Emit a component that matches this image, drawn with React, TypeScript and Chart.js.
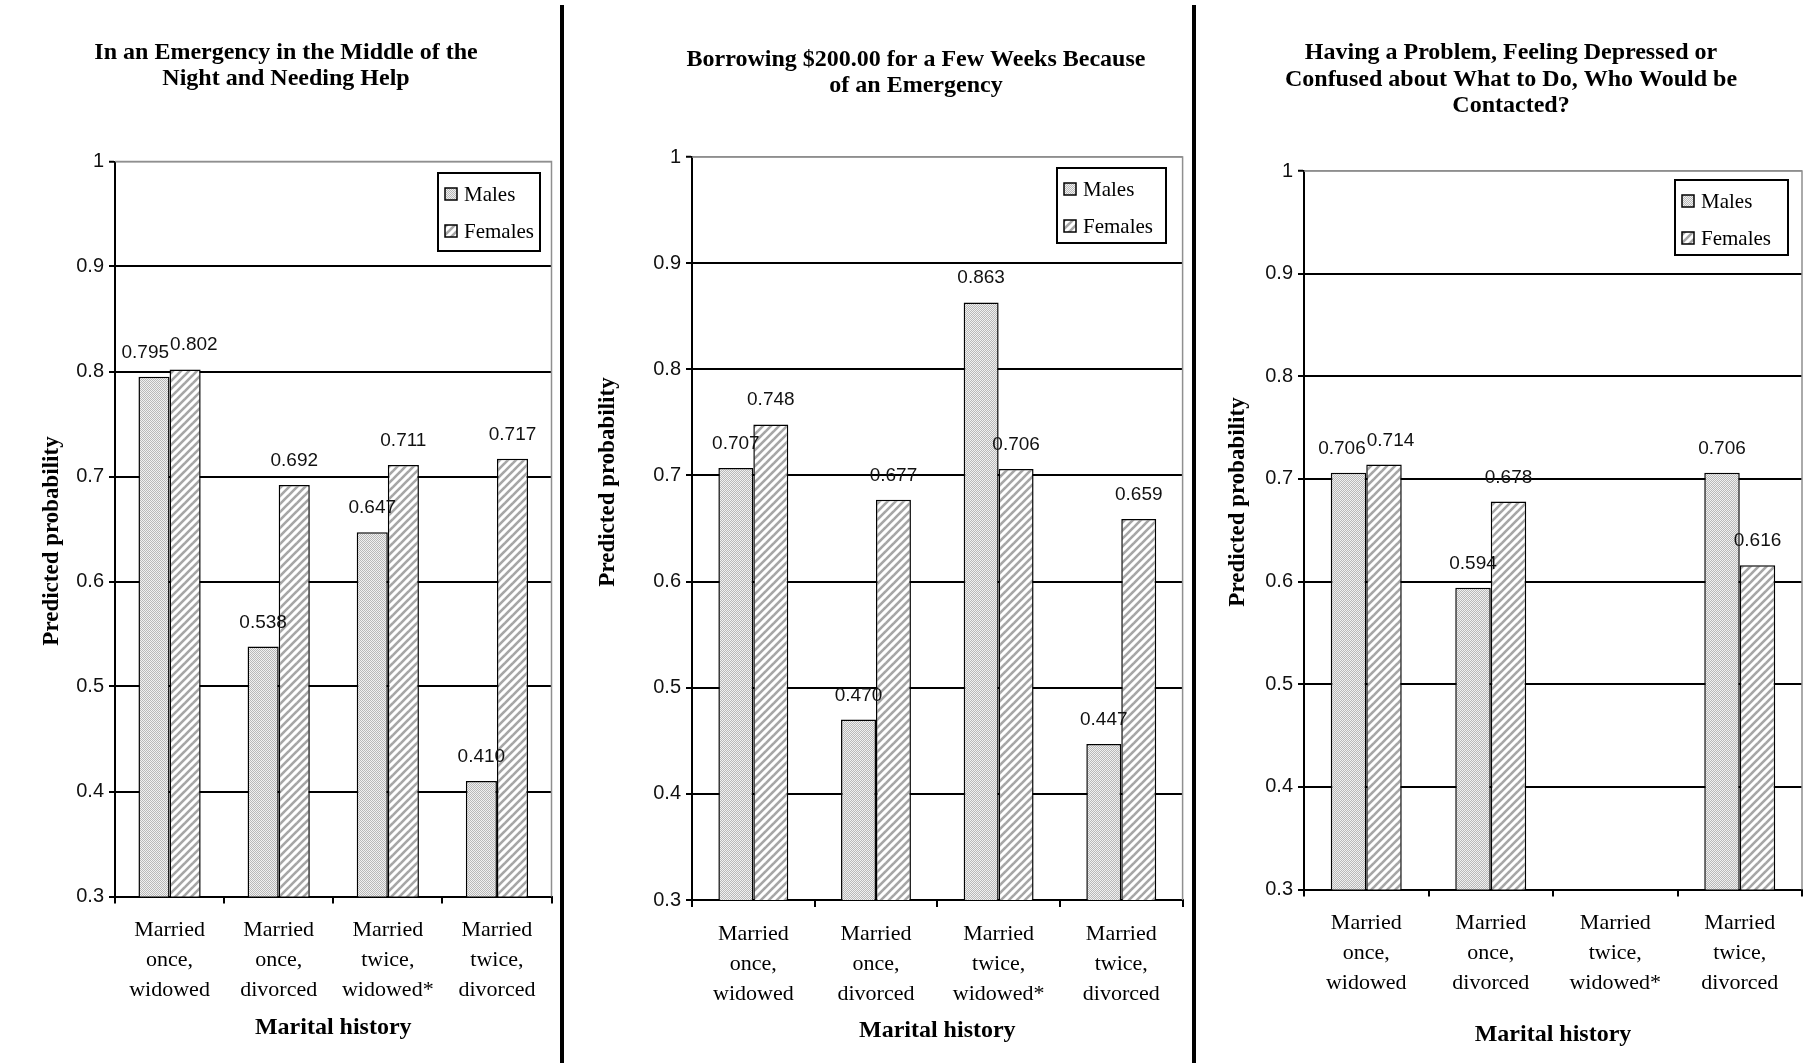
import { useEffect, useRef } from "react";
import { Chart, registerables } from "chart.js";

Chart.register(...registerables);

// ---- data ----
const categories = [
  ["Married", "once,", "widowed"],
  ["Married", "once,", "divorced"],
  ["Married", "twice,", "widowed*"],
  ["Married", "twice,", "divorced"],
];
const seriesNames = ["Males", "Females"];
const yTickValues = [0.3, 0.4, 0.5, 0.6, 0.7, 0.8, 0.9, 1];
const yTickLabels = ["0.3", "0.4", "0.5", "0.6", "0.7", "0.8", "0.9", "1"];
const yAxisTitle = "Predicted probability";
const xAxisTitle = "Marital history";

const emergencyTitle = ["In an Emergency in the Middle of the", "Night and Needing Help"];
const emergencyMales = [0.795, 0.538, 0.647, 0.41];
const emergencyFemales = [0.802, 0.692, 0.711, 0.717];

const borrowingTitle = ["Borrowing $200.00 for a Few Weeks Because", "of an Emergency"];
const borrowingMales = [0.707, 0.47, 0.863, 0.447];
const borrowingFemales = [0.748, 0.677, 0.706, 0.659];

const problemTitle = [
  "Having a Problem, Feeling Depressed or",
  "Confused about What to Do, Who Would be",
  "Contacted?",
];
const problemMales = [0.706, 0.594, null, 0.706];
const problemFemales = [0.714, 0.678, null, 0.616];

// ---- layout (pixels, local to each panel canvas) ----
type Box = { x: number; y: number; w: number; h: number };
type PanelLayout = {
  left: number;
  width: number;
  height: number;
  plotLeft: number;
  plotRight: number;
  plotTop: number;
  plotBottom: number;
  titleX: number;
  titleY: number[];
  yTitleX: number;
  yTitleY: number;
  xTitleY: number;
  legend: Box;
};

const PAGE_W = 1809;
const PAGE_H = 1063;

const layouts: PanelLayout[] = [
  {
    left: 0, width: 560, height: PAGE_H,
    plotLeft: 115, plotRight: 551.5, plotTop: 161.5, plotBottom: 896.5,
    titleX: 286, titleY: [53, 78.5],
    yTitleX: 52, yTitleY: 541, xTitleY: 1028,
    legend: { x: 438, y: 173, w: 102, h: 78 },
  },
  {
    left: 565, width: 627, height: PAGE_H,
    plotLeft: 127, plotRight: 617.6, plotTop: 157, plotBottom: 900,
    titleX: 351, titleY: [60, 85.5],
    yTitleX: 43, yTitleY: 482, xTitleY: 1031,
    legend: { x: 492, y: 168, w: 109, h: 75 },
  },
  {
    left: 1197, width: 612, height: PAGE_H,
    plotLeft: 107, plotRight: 605, plotTop: 171, plotBottom: 889.5,
    titleX: 314, titleY: [53, 79.5, 106],
    yTitleX: 41, yTitleY: 502, xTitleY: 1035,
    legend: { x: 478, y: 180, w: 113, h: 75 },
  },
];

const SERIF = '"Liberation Serif", "Times New Roman", serif';
const SANS = '"Liberation Sans", Arial, sans-serif';

// ---- fill patterns ----
function stipplePattern(ctx: CanvasRenderingContext2D): CanvasPattern | string {
  const c = document.createElement("canvas");
  c.width = 2;
  c.height = 2;
  const g = c.getContext("2d");
  if (!g) return "#d6d6d6";
  g.fillStyle = "#f0f0f0";
  g.fillRect(0, 0, 2, 2);
  g.fillStyle = "#b8b8b8";
  g.fillRect(0, 0, 1, 1);
  g.fillRect(1, 1, 1, 1);
  return ctx.createPattern(c, "repeat") || "#d6d6d6";
}

function hatchPattern(ctx: CanvasRenderingContext2D): CanvasPattern | string {
  const s = 8;
  const c = document.createElement("canvas");
  c.width = s;
  c.height = s;
  const g = c.getContext("2d");
  if (!g) return "#ffffff";
  g.fillStyle = "#ffffff";
  g.fillRect(0, 0, s, s);
  g.strokeStyle = "#a6a6a6";
  g.lineWidth = 2.6;
  for (const o of [-s, 0, s]) {
    g.beginPath();
    g.moveTo(o - 1, s + 1);
    g.lineTo(o + s + 1, -1);
    g.stroke();
  }
  return ctx.createPattern(c, "repeat") || "#ffffff";
}

// ---- one panel ----
type PanelProps = {
  title: string[];
  males: (number | null)[];
  females: (number | null)[];
  layout: PanelLayout;
};

function Panel({ title, males, females, layout }: PanelProps) {
  const ref = useRef<HTMLCanvasElement | null>(null);

  useEffect(() => {
    const canvas = ref.current;
    if (!canvas) return;
    const ctx = canvas.getContext("2d");
    if (!ctx) return;
    const L = layout;
    const maleFill = stipplePattern(ctx);
    const femaleFill = hatchPattern(ctx);
    const fills = [maleFill, femaleFill];

    const decor = {
      id: "panelDecor",
      beforeDatasetsDraw(chart: any) {
        const c = chart.ctx as CanvasRenderingContext2D;
        const a = chart.chartArea;
        c.save();
        c.strokeStyle = "#8f8f8f";
        c.lineWidth = 1.5;
        c.beginPath();
        c.moveTo(a.left, a.top);
        c.lineTo(a.right, a.top);
        c.lineTo(a.right, a.bottom);
        c.stroke();
        c.restore();
      },
      afterDatasetsDraw(chart: any) {
        const c = chart.ctx as CanvasRenderingContext2D;
        c.save();
        c.font = `19px ${SANS}`;
        c.fillStyle = "#111";
        c.textAlign = "center";
        c.textBaseline = "alphabetic";
        const series = [males, females];
        for (let i = 0; i < categories.length; i++) {
          const items: { x: number; y: number; w: number; t: string }[] = [];
          series.forEach((vals, d) => {
            const v = vals[i];
            if (v == null) return;
            const el = chart.getDatasetMeta(d).data[i];
            const t = v.toFixed(3);
            items.push({ x: el.x, y: el.y - 19, w: c.measureText(t).width, t });
          });
          if (items.length === 2 && Math.abs(items[0].y - items[1].y) < 16) {
            const overlap = items[0].x + items[0].w / 2 - (items[1].x - items[1].w / 2) + 1;
            if (overlap > 0) {
              items[0].x -= overlap / 2;
              items[1].x += overlap / 2;
            }
          }
          items.forEach((it) => c.fillText(it.t, it.x, it.y));
        }
        c.restore();
      },
      afterDraw(chart: any) {
        const c = chart.ctx as CanvasRenderingContext2D;
        const a = chart.chartArea;
        c.save();
        c.fillStyle = "#000";
        c.textAlign = "center";
        c.textBaseline = "middle";
        // title
        c.font = `bold 24px ${SERIF}`;
        title.forEach((line, k) => c.fillText(line, L.titleX, L.titleY[k]));
        // axis titles
        c.font = `bold 24px ${SERIF}`;
        c.fillText(xAxisTitle, (a.left + a.right) / 2, L.xTitleY);
        c.save();
        c.translate(L.yTitleX, L.yTitleY);
        c.rotate(-Math.PI / 2);
        c.font = `bold 23px ${SERIF}`;
        c.fillText(yAxisTitle, 0, 0);
        c.restore();
        // legend
        const b = L.legend;
        c.fillStyle = "#fff";
        c.fillRect(b.x, b.y, b.w, b.h);
        c.strokeStyle = "#000";
        c.lineWidth = 2;
        c.strokeRect(b.x, b.y, b.w, b.h);
        c.font = `21px ${SERIF}`;
        c.textAlign = "left";
        const rows = [21, 58];
        seriesNames.forEach((name, k) => {
          const cy = b.y + rows[k];
          c.fillStyle = fills[k] as any;
          c.fillRect(b.x + 7, cy - 6, 12, 12);
          c.strokeStyle = "#000";
          c.lineWidth = 1.5;
          c.strokeRect(b.x + 7, cy - 6, 12, 12);
          c.fillStyle = "#000";
          c.fillText(name, b.x + 26, cy + 1);
        });
        c.restore();
      },
    };

    const chart = new Chart(ctx, {
      type: "bar",
      data: {
        labels: categories,
        datasets: [
          {
            label: seriesNames[0],
            data: males,
            backgroundColor: maleFill as any,
            borderColor: "#000",
            borderWidth: 1.5,
            categoryPercentage: 0.57,
            barPercentage: 1,
          },
          {
            label: seriesNames[1],
            data: females,
            backgroundColor: femaleFill as any,
            borderColor: "#000",
            borderWidth: 1.5,
            categoryPercentage: 0.57,
            barPercentage: 1,
          },
        ],
      },
      options: {
        responsive: false,
        animation: false,
        devicePixelRatio: 1,
        layout: {
          padding: {
            left: 0,
            top: L.plotTop,
            right: L.width - L.plotRight,
            bottom: 0,
          },
        },
        plugins: {
          legend: { display: false },
          title: { display: false },
          tooltip: { enabled: false },
        },
        scales: {
          x: {
            type: "category",
            offset: true,
            grid: {
              offset: true,
              drawOnChartArea: false,
              drawTicks: true,
              tickLength: 7,
              color: "#000",
              lineWidth: 2,
            },
            border: { display: true, color: "#000", width: 2 },
            ticks: {
              color: "#000",
              font: { family: SERIF, size: 22, lineHeight: 1.36 },
              padding: 12,
              maxRotation: 0,
              minRotation: 0,
              autoSkip: false,
            },
            afterFit: (scale: any) => {
              scale.height = L.height - L.plotBottom;
            },
          },
          y: {
            type: "linear",
            min: 0.3,
            max: 1,
            afterBuildTicks: (scale: any) => {
              scale.ticks = yTickValues.map((v) => ({ value: v }));
            },
            grid: {
              color: (c: any) => (c.tick && c.tick.value === 1 ? "#8f8f8f" : "#000"),
              lineWidth: (c: any) => (c.tick && c.tick.value === 1 ? 1.5 : 2),
              tickColor: "#000",
              tickWidth: 2,
              tickLength: 6,
              drawTicks: true,
            },
            border: { display: true, color: "#000", width: 2 },
            ticks: {
              color: "#111",
              font: { family: SANS, size: 20 },
              padding: 5,
              callback: (v: any) => {
                const k = yTickValues.findIndex((t) => Math.abs(t - Number(v)) < 1e-9);
                return k >= 0 ? yTickLabels[k] : "";
              },
            },
            afterFit: (scale: any) => {
              scale.width = L.plotLeft;
            },
          },
        },
      },
      plugins: [decor],
    } as any);

    return () => chart.destroy();
  }, [title, males, females, layout]);

  return (
    <canvas
      ref={ref}
      width={layout.width}
      height={layout.height}
      style={{
        position: "absolute",
        left: layout.left,
        top: 0,
        width: layout.width,
        height: layout.height,
      }}
    />
  );
}

const separators = [560, 1192];

export default function App() {
  return (
    <div
      style={{
        position: "absolute",
        left: 0,
        top: 0,
        width: PAGE_W,
        height: PAGE_H,
        background: "#fff",
        overflow: "hidden",
      }}
    >
      <Panel title={emergencyTitle} males={emergencyMales} females={emergencyFemales} layout={layouts[0]} />
      <Panel title={borrowingTitle} males={borrowingMales} females={borrowingFemales} layout={layouts[1]} />
      <Panel title={problemTitle} males={problemMales} females={problemFemales} layout={layouts[2]} />
      {separators.map((x) => (
        <div
          key={x}
          style={{ position: "absolute", left: x, top: 5, width: 4, height: PAGE_H - 5, background: "#000" }}
        />
      ))}
    </div>
  );
}
